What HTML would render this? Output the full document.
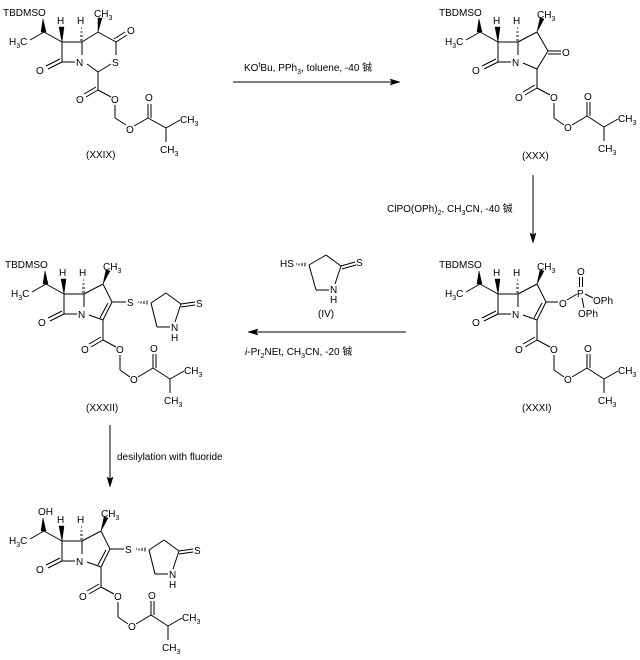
<!DOCTYPE html>
<html><head><meta charset="utf-8"><style>
html,body{margin:0;padding:0;background:#fff;}
svg{display:block;font-family:"Liberation Sans","Noto Sans CJK SC",sans-serif;font-size:10px;}
line{stroke:#000;stroke-width:1;}
polygon{fill:#000;stroke:#000;stroke-width:0.5;}
text{fill:#000;}
</style></head><body>
<svg width="640" height="660" viewBox="0 0 640 660" xmlns="http://www.w3.org/2000/svg">

<!-- ===== XXIX ===== -->
<g transform="translate(0,0)">
<text x="3" y="16">TBDMSO</text>
<polygon points="43,19 41,32 46,32"/>
<line x1="44" y1="32" x2="30" y2="40"/>
<text x="9" y="45">H<tspan font-size="7" dy="3">3</tspan><tspan dy="-3">C</tspan></text>
<line x1="44" y1="32" x2="62" y2="42"/>
<polygon points="62,42 59,27 64,27"/>
<text x="57" y="24">H</text>
<line x1="62" y1="42" x2="82" y2="42"/>
<line x1="80" y1="40" x2="83" y2="40"/><line x1="80" y1="36" x2="83" y2="36"/><line x1="80.5" y1="32" x2="82.5" y2="32"/><line x1="81" y1="28" x2="82" y2="28"/>
<text x="77" y="24">H</text>
<line x1="62" y1="42" x2="62" y2="62"/>
<line x1="62" y1="62" x2="75" y2="62"/>
<text x="76" y="66">N</text>
<line x1="82" y1="42" x2="82" y2="55"/>
<line x1="62" y1="62" x2="48" y2="69"/><line x1="60" y1="59" x2="46" y2="66"/>
<text x="36" y="74">O</text>
<line x1="82" y1="42" x2="98" y2="32"/>
<polygon points="98,32 98,18 102,18"/>
<text x="94" y="17">CH<tspan font-size="7" dy="3">3</tspan></text>
<line x1="98" y1="32" x2="116" y2="42"/>
<line x1="116" y1="42" x2="127" y2="35"/><line x1="114" y1="39" x2="125" y2="32"/>
<text x="127" y="34">O</text>
<line x1="116" y1="42" x2="116" y2="55"/>
<text x="112" y="66">S</text>
<line x1="111" y1="64" x2="98" y2="72"/>
<line x1="98" y1="72" x2="87" y2="64"/>
<line x1="98" y1="72" x2="98" y2="90"/>
<line x1="98" y1="90" x2="86" y2="97"/><line x1="96" y1="87" x2="84" y2="94"/>
<text x="76" y="103">O</text>
<line x1="98" y1="90" x2="111" y2="97"/>
<text x="111" y="103">O</text>
<line x1="115" y1="105" x2="115" y2="118"/>
<line x1="115" y1="118" x2="126" y2="125"/>
<text x="126" y="133">O</text>
<line x1="134" y1="126" x2="148" y2="118"/>
<line x1="148" y1="118" x2="148" y2="104"/><line x1="151" y1="118" x2="151" y2="104"/>
<text x="145" y="101">O</text>
<line x1="148" y1="118" x2="166" y2="128"/>
<line x1="166" y1="128" x2="180" y2="120"/>
<text x="180" y="123">CH<tspan font-size="7" dy="3">3</tspan></text>
<line x1="166" y1="128" x2="166" y2="142"/>
<text x="160" y="153">CH<tspan font-size="7" dy="3">3</tspan></text>
<text x="86" y="158">(XXIX)</text>
</g>

<!-- ===== XXX ===== -->
<g transform="translate(436,0)">
<text x="3" y="16">TBDMSO</text>
<polygon points="43,19 41,32 46,32"/>
<line x1="44" y1="32" x2="30" y2="40"/>
<text x="9" y="45">H<tspan font-size="7" dy="3">3</tspan><tspan dy="-3">C</tspan></text>
<line x1="44" y1="32" x2="62" y2="42"/>
<polygon points="62,42 59,27 64,27"/>
<text x="57" y="24">H</text>
<line x1="62" y1="42" x2="82" y2="42"/>
<line x1="80" y1="40" x2="83" y2="40"/><line x1="80" y1="36" x2="83" y2="36"/><line x1="80.5" y1="32" x2="82.5" y2="32"/><line x1="81" y1="28" x2="82" y2="28"/>
<text x="77" y="24">H</text>
<line x1="62" y1="42" x2="62" y2="62"/>
<line x1="62" y1="62" x2="75" y2="62"/>
<text x="76" y="66">N</text>
<line x1="82" y1="42" x2="82" y2="55"/>
<line x1="62" y1="62" x2="48" y2="69"/><line x1="60" y1="59" x2="46" y2="66"/>
<text x="36" y="74">O</text>
<line x1="82" y1="42" x2="101" y2="32"/>
<polygon points="101,32 104,18 108,19"/>
<text x="101" y="18">CH<tspan font-size="7" dy="3">3</tspan></text>
<line x1="101" y1="32" x2="112" y2="51"/>
<line x1="112" y1="51" x2="125" y2="51"/><line x1="112" y1="54" x2="125" y2="54"/>
<text x="126" y="56">O</text>
<line x1="112" y1="51" x2="101" y2="69"/>
<line x1="101" y1="69" x2="87" y2="63"/>
<line x1="101" y1="69" x2="101" y2="88"/>
<line x1="101" y1="88" x2="89" y2="95"/><line x1="99" y1="85" x2="87" y2="92"/>
<text x="79" y="101">O</text>
<line x1="101" y1="88" x2="114" y2="95"/>
<text x="114" y="101">O</text>
<line x1="118" y1="103" x2="118" y2="118"/>
<line x1="118" y1="118" x2="128" y2="125"/>
<text x="128" y="131">O</text>
<line x1="136" y1="125" x2="151" y2="116"/>
<line x1="151" y1="116" x2="151" y2="102"/><line x1="154" y1="116" x2="154" y2="102"/>
<text x="148" y="100">O</text>
<line x1="151" y1="116" x2="168" y2="127"/>
<line x1="168" y1="127" x2="182" y2="119"/>
<text x="182" y="122">CH<tspan font-size="7" dy="3">3</tspan></text>
<line x1="168" y1="127" x2="168" y2="141"/>
<text x="162" y="152">CH<tspan font-size="7" dy="3">3</tspan></text>
<text x="86" y="159">(XXX)</text>
</g>

<!-- ===== XXXI ===== -->
<g transform="translate(436,252)">
<text x="3" y="16">TBDMSO</text>
<polygon points="43,19 41,32 46,32"/>
<line x1="44" y1="32" x2="30" y2="40"/>
<text x="9" y="45">H<tspan font-size="7" dy="3">3</tspan><tspan dy="-3">C</tspan></text>
<line x1="44" y1="32" x2="62" y2="42"/>
<polygon points="62,42 59,27 64,27"/>
<text x="57" y="24">H</text>
<line x1="62" y1="42" x2="82" y2="42"/>
<line x1="80" y1="40" x2="83" y2="40"/><line x1="80" y1="36" x2="83" y2="36"/><line x1="80.5" y1="32" x2="82.5" y2="32"/><line x1="81" y1="28" x2="82" y2="28"/>
<text x="77" y="24">H</text>
<line x1="62" y1="42" x2="62" y2="62"/>
<line x1="62" y1="62" x2="75" y2="62"/>
<text x="76" y="66">N</text>
<line x1="82" y1="42" x2="82" y2="55"/>
<line x1="62" y1="62" x2="48" y2="69"/><line x1="60" y1="59" x2="46" y2="66"/>
<text x="36" y="74">O</text>
<line x1="82" y1="42" x2="101" y2="32"/>
<polygon points="101,32 104,18 108,19"/>
<text x="101" y="18">CH<tspan font-size="7" dy="3">3</tspan></text>
<line x1="101" y1="32" x2="110" y2="50"/>
<line x1="110" y1="50" x2="101" y2="68"/><line x1="106" y1="51" x2="98" y2="66"/>
<line x1="101" y1="68" x2="87" y2="63"/>
<line x1="110" y1="50" x2="122" y2="50"/>
<text x="123" y="55">O</text>
<line x1="131" y1="48" x2="141" y2="42"/>
<text x="141" y="45">P</text>
<line x1="143.5" y1="35" x2="143.5" y2="25"/><line x1="146.5" y1="35" x2="146.5" y2="25"/>
<text x="141" y="23">O</text>
<line x1="149" y1="42" x2="157" y2="46"/>
<text x="157" y="52">OPh</text>
<line x1="146" y1="46" x2="148" y2="56"/>
<text x="142" y="65">OPh</text>
<line x1="101" y1="68" x2="101" y2="88"/>
<line x1="101" y1="88" x2="89" y2="95"/><line x1="99" y1="85" x2="87" y2="92"/>
<text x="79" y="101">O</text>
<line x1="101" y1="88" x2="114" y2="95"/>
<text x="114" y="101">O</text>
<line x1="118" y1="103" x2="118" y2="118"/>
<line x1="118" y1="118" x2="128" y2="125"/>
<text x="128" y="131">O</text>
<line x1="136" y1="125" x2="151" y2="116"/>
<line x1="151" y1="116" x2="151" y2="102"/><line x1="154" y1="116" x2="154" y2="102"/>
<text x="148" y="100">O</text>
<line x1="151" y1="116" x2="168" y2="127"/>
<line x1="168" y1="127" x2="182" y2="119"/>
<text x="182" y="122">CH<tspan font-size="7" dy="3">3</tspan></text>
<line x1="168" y1="127" x2="168" y2="141"/>
<text x="162" y="152">CH<tspan font-size="7" dy="3">3</tspan></text>
<text x="86" y="159">(XXXI)</text>
</g>

<!-- ===== XXXII ===== -->
<g transform="translate(2,252)">
<text x="3" y="16">TBDMSO</text>
<polygon points="43,19 41,32 46,32"/>
<line x1="44" y1="32" x2="30" y2="40"/>
<text x="9" y="45">H<tspan font-size="7" dy="3">3</tspan><tspan dy="-3">C</tspan></text>
<line x1="44" y1="32" x2="62" y2="42"/>
<polygon points="62,42 59,27 64,27"/>
<text x="57" y="24">H</text>
<line x1="62" y1="42" x2="82" y2="42"/>
<line x1="80" y1="40" x2="83" y2="40"/><line x1="80" y1="36" x2="83" y2="36"/><line x1="80.5" y1="32" x2="82.5" y2="32"/><line x1="81" y1="28" x2="82" y2="28"/>
<text x="77" y="24">H</text>
<line x1="62" y1="42" x2="62" y2="62"/>
<line x1="62" y1="62" x2="75" y2="62"/>
<text x="76" y="66">N</text>
<line x1="82" y1="42" x2="82" y2="55"/>
<line x1="62" y1="62" x2="48" y2="69"/><line x1="60" y1="59" x2="46" y2="66"/>
<text x="36" y="74">O</text>
<line x1="82" y1="42" x2="101" y2="32"/>
<polygon points="101,32 104,18 108,19"/>
<text x="101" y="18">CH<tspan font-size="7" dy="3">3</tspan></text>
<line x1="101" y1="32" x2="110" y2="50"/>
<line x1="110" y1="50" x2="101" y2="68"/><line x1="106" y1="51" x2="98" y2="66"/>
<line x1="101" y1="68" x2="87" y2="63"/>
<line x1="110" y1="50" x2="124" y2="50"/>
<text x="125" y="54">S</text>
<line x1="136" y1="50" x2="137" y2="50"/><line x1="139" y1="49.5" x2="139" y2="51.5"/><line x1="142" y1="49" x2="142" y2="52"/><line x1="145" y1="48.5" x2="145" y2="52.5"/>
<line x1="149" y1="51" x2="164" y2="41"/>
<line x1="164" y1="41" x2="179" y2="52"/>
<line x1="179" y1="52" x2="193" y2="50"/><line x1="179" y1="55" x2="193" y2="53"/>
<text x="194" y="55">S</text>
<line x1="179" y1="52" x2="173" y2="70"/>
<text x="169" y="79">N</text>
<text x="169" y="89">H</text>
<line x1="168" y1="75" x2="155" y2="75"/>
<line x1="155" y1="75" x2="149" y2="51"/>
<line x1="101" y1="68" x2="101" y2="88"/>
<line x1="101" y1="88" x2="89" y2="95"/><line x1="99" y1="85" x2="87" y2="92"/>
<text x="79" y="101">O</text>
<line x1="101" y1="88" x2="114" y2="95"/>
<text x="114" y="101">O</text>
<line x1="118" y1="103" x2="118" y2="118"/>
<line x1="118" y1="118" x2="128" y2="125"/>
<text x="128" y="131">O</text>
<line x1="136" y1="125" x2="151" y2="116"/>
<line x1="151" y1="116" x2="151" y2="102"/><line x1="154" y1="116" x2="154" y2="102"/>
<text x="148" y="100">O</text>
<line x1="151" y1="116" x2="168" y2="127"/>
<line x1="168" y1="127" x2="182" y2="119"/>
<text x="182" y="122">CH<tspan font-size="7" dy="3">3</tspan></text>
<line x1="168" y1="127" x2="168" y2="141"/>
<text x="162" y="152">CH<tspan font-size="7" dy="3">3</tspan></text>
<text x="84" y="159">(XXXII)</text>
</g>

<!-- ===== Final ===== -->
<g transform="translate(0,499)">
<text x="38" y="16">OH</text>
<polygon points="43,19 41,32 46,32"/>
<line x1="44" y1="32" x2="30" y2="40"/>
<text x="9" y="45">H<tspan font-size="7" dy="3">3</tspan><tspan dy="-3">C</tspan></text>
<line x1="44" y1="32" x2="62" y2="42"/>
<polygon points="62,42 59,27 64,27"/>
<text x="57" y="24">H</text>
<line x1="62" y1="42" x2="82" y2="42"/>
<line x1="80" y1="40" x2="83" y2="40"/><line x1="80" y1="36" x2="83" y2="36"/><line x1="80.5" y1="32" x2="82.5" y2="32"/><line x1="81" y1="28" x2="82" y2="28"/>
<text x="77" y="24">H</text>
<line x1="62" y1="42" x2="62" y2="62"/>
<line x1="62" y1="62" x2="75" y2="62"/>
<text x="76" y="66">N</text>
<line x1="82" y1="42" x2="82" y2="55"/>
<line x1="62" y1="62" x2="48" y2="69"/><line x1="60" y1="59" x2="46" y2="66"/>
<text x="36" y="74">O</text>
<line x1="82" y1="42" x2="101" y2="32"/>
<polygon points="101,32 104,18 108,19"/>
<text x="101" y="18">CH<tspan font-size="7" dy="3">3</tspan></text>
<line x1="101" y1="32" x2="110" y2="50"/>
<line x1="110" y1="50" x2="101" y2="68"/><line x1="106" y1="51" x2="98" y2="66"/>
<line x1="101" y1="68" x2="87" y2="63"/>
<line x1="110" y1="50" x2="124" y2="50"/>
<text x="125" y="54">S</text>
<line x1="136" y1="50" x2="137" y2="50"/><line x1="139" y1="49.5" x2="139" y2="51.5"/><line x1="142" y1="49" x2="142" y2="52"/><line x1="145" y1="48.5" x2="145" y2="52.5"/>
<line x1="149" y1="51" x2="164" y2="41"/>
<line x1="164" y1="41" x2="179" y2="52"/>
<line x1="179" y1="52" x2="193" y2="50"/><line x1="179" y1="55" x2="193" y2="53"/>
<text x="194" y="55">S</text>
<line x1="179" y1="52" x2="173" y2="70"/>
<text x="169" y="79">N</text>
<text x="169" y="89">H</text>
<line x1="168" y1="75" x2="155" y2="75"/>
<line x1="155" y1="75" x2="149" y2="51"/>
<line x1="101" y1="68" x2="101" y2="88"/>
<line x1="101" y1="88" x2="89" y2="95"/><line x1="99" y1="85" x2="87" y2="92"/>
<text x="79" y="101">O</text>
<line x1="101" y1="88" x2="114" y2="95"/>
<text x="114" y="101">O</text>
<line x1="118" y1="103" x2="118" y2="118"/>
<line x1="118" y1="118" x2="128" y2="125"/>
<text x="128" y="131">O</text>
<line x1="136" y1="125" x2="151" y2="116"/>
<line x1="151" y1="116" x2="151" y2="102"/><line x1="154" y1="116" x2="154" y2="102"/>
<text x="148" y="100">O</text>
<line x1="151" y1="116" x2="168" y2="127"/>
<line x1="168" y1="127" x2="182" y2="119"/>
<text x="182" y="122">CH<tspan font-size="7" dy="3">3</tspan></text>
<line x1="168" y1="127" x2="168" y2="141"/>
<text x="162" y="152">CH<tspan font-size="7" dy="3">3</tspan></text>
</g>

<!-- ===== Reagent IV ===== -->
<g>
<text x="280" y="267">HS</text>
<line x1="296" y1="264" x2="297" y2="264"/><line x1="299" y1="263.5" x2="299" y2="265.5"/><line x1="302" y1="263" x2="302" y2="266"/><line x1="305" y1="262.5" x2="305" y2="266.5"/>
<line x1="309" y1="265" x2="326" y2="255"/>
<line x1="326" y1="255" x2="341" y2="266"/>
<line x1="341" y1="266" x2="355" y2="262"/><line x1="342" y1="269" x2="356" y2="265"/>
<text x="356" y="266">S</text>
<line x1="341" y1="266" x2="335" y2="284"/>
<text x="330" y="293">N</text>
<text x="330" y="303">H</text>
<line x1="329" y1="290" x2="316" y2="290"/>
<line x1="316" y1="290" x2="309" y2="265"/>
<text x="318" y="317">(IV)</text>
</g>

<!-- ===== Arrows ===== -->
<line x1="233" y1="82" x2="396" y2="82"/>
<polygon points="400,82 390,79 392,82 390,85"/>
<text x="244" y="71">KO<tspan font-size="7" dy="-4">t</tspan><tspan dy="4">Bu, PPh</tspan><tspan font-size="7" dy="3">3</tspan><tspan dy="-3">, toluene, -40 铖</tspan></text>

<line x1="533" y1="175" x2="533" y2="239"/>
<polygon points="533,243 530,233 533,235 536,233"/>
<text x="387" y="212">ClPO(OPh)<tspan font-size="7" dy="3">2</tspan><tspan dy="-3">, CH</tspan><tspan font-size="7" dy="3">3</tspan><tspan dy="-3">CN, -40 铖</tspan></text>

<line x1="252" y1="332" x2="406" y2="332"/>
<polygon points="248,332 258,329 256,332 258,335"/>
<text x="245" y="355"><tspan font-style="italic">i</tspan>-Pr<tspan font-size="7" dy="3">2</tspan><tspan dy="-3">NEt, CH</tspan><tspan font-size="7" dy="3">3</tspan><tspan dy="-3">CN, -20 铖</tspan></text>

<line x1="110" y1="425" x2="110" y2="483"/>
<polygon points="110,487 107,477 110,479 113,477"/>
<text x="117" y="460">desilylation with fluoride</text>
</svg>
</body></html>
